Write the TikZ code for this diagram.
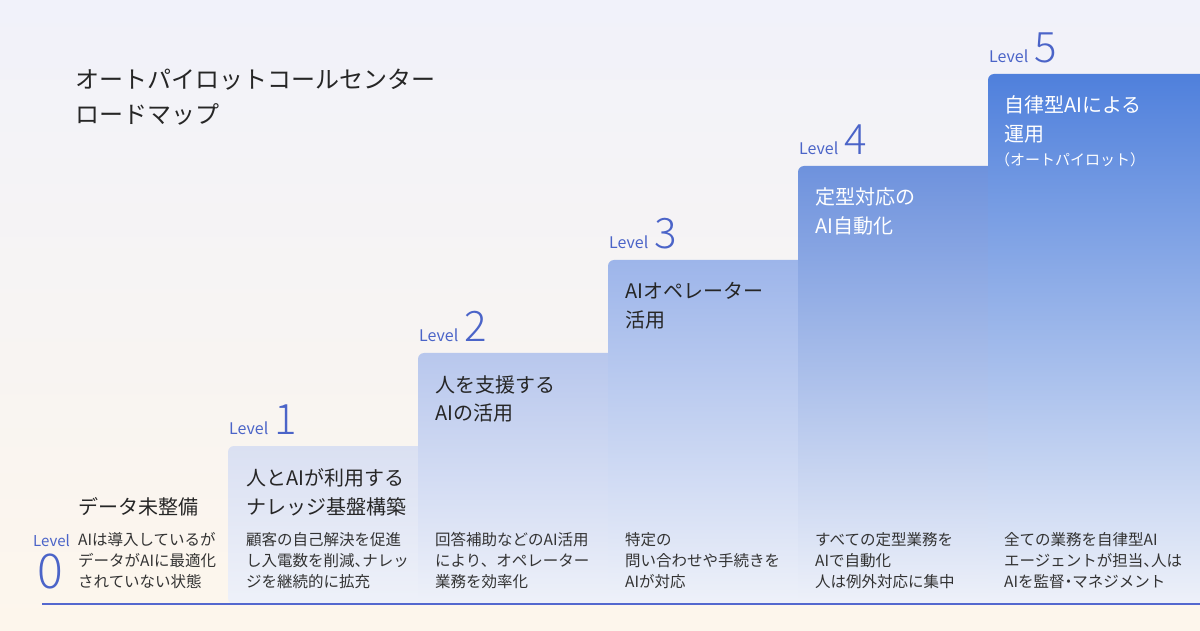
\documentclass[tikz,border=0pt]{standalone}
\usepackage{fontspec}
\setmainfont{Noto Sans CJK JP}
\IfFontExistsTF{Noto Sans CJK JP Light}{\newfontfamily\numfont{Noto Sans CJK JP Light}}{\newfontfamily\numfont{Noto Sans CJK JP}}
\newcommand\halfw[1]{{\addfontfeature{RawFeature=+halt}#1}}
\definecolor{bgtop}{HTML}{F1F2FA}
\definecolor{bgbot}{HTML}{FDF6EC}
\definecolor{cardbot}{HTML}{EEF1F9}
\definecolor{cone}{HTML}{DAE0F2}
\definecolor{ctwo}{HTML}{B8C7ED}
\definecolor{cthree}{HTML}{9DB5EA}
\definecolor{cfour}{HTML}{6E92DD}
\definecolor{cfive}{HTML}{4F80DC}
\definecolor{lvblue}{HTML}{4B64C8}
\definecolor{lineblue}{HTML}{5468CF}
\definecolor{ink}{HTML}{262626}
\definecolor{inktwo}{HTML}{333333}
\tikzset{
  lvl/.style={anchor=base west, inner sep=0pt, text=lvblue, font=\fontsize{16}{16}\selectfont},
  num/.style={anchor=base west, inner sep=0pt, text=lvblue, font=\numfont\fontsize{42}{42}\selectfont},
  ttl/.style={anchor=base west, inner sep=0pt, align=left, text=ink, font=\fontsize{20}{29}\selectfont},
  dsc/.style={anchor=base west, inner sep=0pt, align=left, text=inktwo, font=\fontsize{15.5}{21}\selectfont},
  card/.style={rounded corners=6pt, bottom color=cardbot}
}
\begin{document}
\begin{tikzpicture}[x=1pt,y=1pt]
\useasboundingbox (0,0) rectangle (1200,630);
\shade[top color=bgtop, bottom color=bgbot] (0,0) rectangle (1200,630);
% cards
\shade[card, top color=cone]   (228,26) -- (228,184) -- (428,184) -- (428,26) -- cycle;
\shade[card, top color=ctwo]   (418,26) -- (418,277) -- (618,277) -- (618,26) -- cycle;
\shade[card, top color=cthree] (608,26) -- (608,370) -- (808,370) -- (808,26) -- cycle;
\shade[card, top color=cfour]  (798,26) -- (798,464) -- (998,464) -- (998,26) -- cycle;
\shade[card, top color=cfive]  (988,26) -- (988,556) -- (1210,556) -- (1210,26) -- cycle;
% title (base anchor = last line)
\node[anchor=base west, inner sep=0pt, align=left, text=ink, font=\fontsize{24}{35}\selectfont] (title) at (75,506) {オートパイロットコールセンター\\ロードマップ};
% level 0
\node[lvl, font=\fontsize{15}{15}\selectfont] (lv0) at (33,84) {Level};
\node[anchor=base, inner sep=0pt, text=lvblue, font=\numfont\fontsize{48}{48}\selectfont] (n0) at (50.5,42) {0};
\node[ttl] (t0) at (78,116) {データ未整備};
\node[dsc] (d0) at (78,43) {AIは導入しているが\\データがAIに最適化\\されていない状態};
% level 1
\node[lvl] (lv1) at (229,195) {Level};
\node[num] (n1) at ([xshift=6pt]lv1.base east) {1};
\node[ttl] (t1) at (246,116) {人とAIが利用する\\ナレッジ基盤構築};
\node[dsc] (d1) at (246,43) {顧客の自己解決を促進\\し入電数を削減\halfw{、}ナレッ\\ジを継続的に拡充};
% level 2
\node[lvl] (lv2) at (419,288) {Level};
\node[num] (n2) at ([xshift=6pt]lv2.base east) {2};
\node[ttl] (t2) at (435,209) {人を支援する\\AIの活用};
\node[dsc] (d2) at (435,43) {回答補助などのAI活用\\により、オペレーター\\業務を効率化};
% level 3
\node[lvl] (lv3) at (609,381) {Level};
\node[num] (n3) at ([xshift=6pt]lv3.base east) {3};
\node[ttl] (t3) at (625,302) {AIオペレーター\\活用};
\node[dsc] (d3) at (625,43) {特定の\\問い合わせや手続きを\\AIが対応};
% level 4
\node[lvl] (lv4) at (799,475) {Level};
\node[num] (n4) at ([xshift=6pt]lv4.base east) {4};
\node[ttl, text=white] (t4) at (815,396) {定型対応の\\AI自動化};
\node[dsc] (d4) at (815,43) {すべての定型業務を\\AIで自動化\\人は例外対応に集中};
% level 5
\node[lvl] (lv5) at (989,567) {Level};
\node[num] (n5) at ([xshift=6pt]lv5.base east) {5};
\node[ttl, text=white] (t5) at (1004,488) {自律型AIによる\\運用};
\node[anchor=base west, inner sep=0pt, text=white, font=\fontsize{15}{15}\selectfont] (p5) at (995,464) {（オートパイロット）};
\node[dsc] (d5) at (1004,43) {全ての業務を自律型AI\\エージェントが担当\halfw{、}人は\\AIを監督\halfw{・}マネジメント};
% baseline
\coordinate (bl) at (42,26);
\coordinate (br) at (1200,26);
\draw[line width=2.2pt, lineblue] (bl) -- (br);
\end{tikzpicture}
\end{document}
